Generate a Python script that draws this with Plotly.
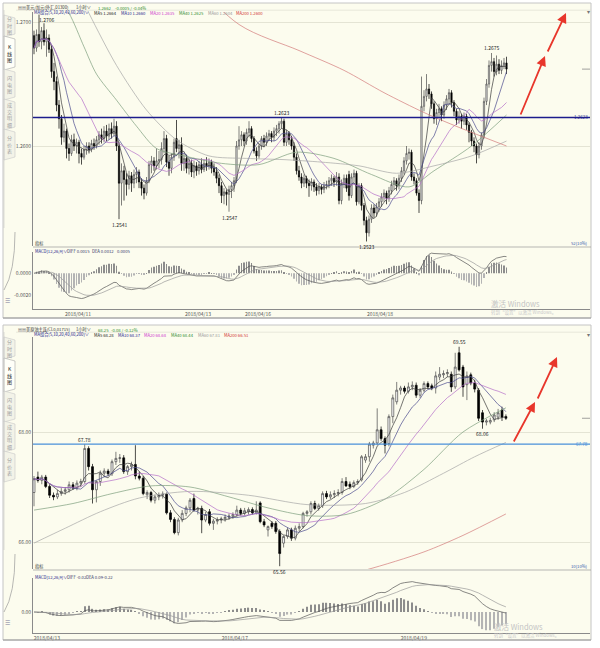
import numpy as np
import pandas as pd
import plotly.graph_objects as go

W, H = 600, 648
FONT = "Noto Sans CJK SC, Noto Sans, sans-serif"
CREAM = "#FCFCEE"

# ---------------- USD/CAD, 1-hour bars ----------------
usd_open = [
    1.2689, 1.2679, 1.2690, 1.2684, 1.2693, 1.2684, 1.2687, 1.2678, 1.2660, 1.2652,
    1.2633, 1.2622, 1.2607, 1.2612, 1.2598, 1.2594, 1.2605, 1.2600, 1.2603, 1.2594,
    1.2591, 1.2597, 1.2600, 1.2597, 1.2602, 1.2600, 1.2605, 1.2609, 1.2606, 1.2612,
    1.2608, 1.2614, 1.2610, 1.2616, 1.2600, 1.2570, 1.2580, 1.2573, 1.2569, 1.2576,
    1.2570, 1.2577, 1.2579, 1.2571, 1.2566, 1.2562, 1.2572, 1.2585, 1.2588, 1.2584,
    1.2588, 1.2589, 1.2598, 1.2606, 1.2587, 1.2582, 1.2591, 1.2606, 1.2598, 1.2601,
    1.2586, 1.2590, 1.2582, 1.2586, 1.2579, 1.2584, 1.2580, 1.2585, 1.2581, 1.2586,
    1.2584, 1.2587, 1.2582, 1.2579, 1.2574, 1.2568, 1.2560, 1.2563, 1.2561, 1.2565,
    1.2568, 1.2572, 1.2600, 1.2605, 1.2609, 1.2604, 1.2611, 1.2614, 1.2606, 1.2596,
    1.2592, 1.2600, 1.2606, 1.2603, 1.2608, 1.2610, 1.2607, 1.2612, 1.2614, 1.2618,
    1.2620, 1.2603, 1.2610, 1.2605, 1.2600, 1.2591, 1.2580, 1.2575, 1.2570, 1.2574,
    1.2570, 1.2568, 1.2571, 1.2567, 1.2564, 1.2567, 1.2565, 1.2568, 1.2569, 1.2572,
    1.2574, 1.2571, 1.2575, 1.2556, 1.2570, 1.2574, 1.2577, 1.2560, 1.2575, 1.2578,
    1.2555, 1.2568, 1.2552, 1.2540, 1.2530, 1.2541, 1.2550, 1.2546, 1.2551, 1.2555,
    1.2559, 1.2562, 1.2558, 1.2564, 1.2569, 1.2572, 1.2568, 1.2574, 1.2580, 1.2588,
    1.2594, 1.2595, 1.2575, 1.2572, 1.2562, 1.2556, 1.2632, 1.2640, 1.2646, 1.2642,
    1.2634, 1.2622, 1.2627, 1.2630, 1.2625, 1.2633, 1.2638, 1.2643, 1.2635, 1.2628,
    1.2621, 1.2624, 1.2620, 1.2624, 1.2617, 1.2611, 1.2604, 1.2600, 1.2593, 1.2600,
    1.2609, 1.2636, 1.2650, 1.2665, 1.2668, 1.2660, 1.2666, 1.2661, 1.2665, 1.2667,
]
usd_high = [
    1.2693, 1.2694, 1.2706, 1.2696, 1.2699, 1.2694, 1.2690, 1.2681, 1.2667, 1.2656,
    1.2637, 1.2625, 1.2618, 1.2614, 1.2602, 1.2609, 1.2610, 1.2606, 1.2605, 1.2598,
    1.2600, 1.2603, 1.2603, 1.2605, 1.2606, 1.2608, 1.2612, 1.2614, 1.2616, 1.2617,
    1.2618, 1.2619, 1.2622, 1.2620, 1.2603, 1.2586, 1.2584, 1.2578, 1.2580, 1.2579,
    1.2581, 1.2583, 1.2581, 1.2574, 1.2569, 1.2575, 1.2588, 1.2592, 1.2591, 1.2598,
    1.2596, 1.2603, 1.2612, 1.2609, 1.2592, 1.2594, 1.2606, 1.2621, 1.2605, 1.2607,
    1.2594, 1.2593, 1.2590, 1.2589, 1.2588, 1.2587, 1.2588, 1.2590, 1.2589, 1.2591,
    1.2590, 1.2589, 1.2586, 1.2583, 1.2577, 1.2571, 1.2566, 1.2565, 1.2568, 1.2571,
    1.2575, 1.2604, 1.2616, 1.2612, 1.2611, 1.2614, 1.2620, 1.2616, 1.2608, 1.2599,
    1.2602, 1.2608, 1.2609, 1.2611, 1.2613, 1.2612, 1.2615, 1.2617, 1.2620, 1.2623,
    1.2622, 1.2613, 1.2612, 1.2608, 1.2603, 1.2594, 1.2584, 1.2578, 1.2577, 1.2576,
    1.2573, 1.2574, 1.2573, 1.2570, 1.2570, 1.2569, 1.2571, 1.2572, 1.2575, 1.2577,
    1.2576, 1.2579, 1.2578, 1.2573, 1.2577, 1.2577, 1.2580, 1.2578, 1.2581, 1.2580,
    1.2570, 1.2570, 1.2554, 1.2543, 1.2544, 1.2553, 1.2553, 1.2554, 1.2558, 1.2562,
    1.2565, 1.2564, 1.2567, 1.2572, 1.2575, 1.2574, 1.2577, 1.2583, 1.2591, 1.2600,
    1.2598, 1.2597, 1.2578, 1.2574, 1.2565, 1.2656, 1.2645, 1.2658, 1.2650, 1.2644,
    1.2636, 1.2630, 1.2634, 1.2632, 1.2636, 1.2641, 1.2646, 1.2645, 1.2637, 1.2630,
    1.2628, 1.2626, 1.2627, 1.2626, 1.2619, 1.2613, 1.2607, 1.2602, 1.2603, 1.2611,
    1.2639, 1.2654, 1.2669, 1.2675, 1.2671, 1.2673, 1.2670, 1.2669, 1.2671, 1.2672,
]
usd_low = [
    1.2674, 1.2676, 1.2680, 1.2678, 1.2681, 1.2672, 1.2675, 1.2655, 1.2645, 1.2628,
    1.2614, 1.2601, 1.2603, 1.2590, 1.2588, 1.2592, 1.2596, 1.2594, 1.2586, 1.2585,
    1.2589, 1.2593, 1.2594, 1.2595, 1.2597, 1.2598, 1.2601, 1.2602, 1.2603, 1.2604,
    1.2605, 1.2606, 1.2608, 1.2596, 1.2541, 1.2552, 1.2556, 1.2560, 1.2565, 1.2563,
    1.2566, 1.2570, 1.2566, 1.2560, 1.2557, 1.2560, 1.2570, 1.2578, 1.2580, 1.2581,
    1.2582, 1.2585, 1.2594, 1.2583, 1.2576, 1.2578, 1.2588, 1.2595, 1.2590, 1.2580,
    1.2580, 1.2578, 1.2577, 1.2575, 1.2574, 1.2576, 1.2577, 1.2578, 1.2579, 1.2580,
    1.2581, 1.2578, 1.2576, 1.2570, 1.2562, 1.2554, 1.2553, 1.2552, 1.2547, 1.2558,
    1.2563, 1.2570, 1.2597, 1.2600, 1.2600, 1.2601, 1.2607, 1.2603, 1.2594, 1.2588,
    1.2590, 1.2597, 1.2599, 1.2600, 1.2604, 1.2603, 1.2604, 1.2608, 1.2610, 1.2614,
    1.2600, 1.2600, 1.2601, 1.2597, 1.2588, 1.2577, 1.2572, 1.2566, 1.2567, 1.2566,
    1.2559, 1.2564, 1.2563, 1.2560, 1.2561, 1.2561, 1.2562, 1.2565, 1.2566, 1.2568,
    1.2567, 1.2568, 1.2553, 1.2553, 1.2566, 1.2563, 1.2556, 1.2558, 1.2571, 1.2552,
    1.2553, 1.2548, 1.2536, 1.2523, 1.2527, 1.2538, 1.2542, 1.2543, 1.2547, 1.2551,
    1.2555, 1.2553, 1.2555, 1.2561, 1.2565, 1.2564, 1.2565, 1.2571, 1.2577, 1.2585,
    1.2589, 1.2572, 1.2569, 1.2560, 1.2546, 1.2553, 1.2628, 1.2636, 1.2638, 1.2630,
    1.2618, 1.2617, 1.2623, 1.2620, 1.2622, 1.2629, 1.2634, 1.2631, 1.2624, 1.2617,
    1.2618, 1.2614, 1.2617, 1.2613, 1.2603, 1.2600, 1.2595, 1.2586, 1.2590, 1.2597,
    1.2606, 1.2633, 1.2647, 1.2660, 1.2656, 1.2657, 1.2658, 1.2658, 1.2662, 1.2658,
]
usd_close = [
    1.2679, 1.2690, 1.2684, 1.2693, 1.2684, 1.2687, 1.2678, 1.2660, 1.2652, 1.2633,
    1.2622, 1.2607, 1.2612, 1.2598, 1.2594, 1.2605, 1.2600, 1.2603, 1.2594, 1.2591,
    1.2597, 1.2600, 1.2597, 1.2602, 1.2600, 1.2605, 1.2609, 1.2606, 1.2612, 1.2608,
    1.2614, 1.2610, 1.2616, 1.2600, 1.2570, 1.2580, 1.2573, 1.2569, 1.2576, 1.2570,
    1.2577, 1.2579, 1.2571, 1.2566, 1.2562, 1.2572, 1.2585, 1.2588, 1.2584, 1.2588,
    1.2589, 1.2598, 1.2606, 1.2587, 1.2582, 1.2591, 1.2603, 1.2598, 1.2601, 1.2586,
    1.2590, 1.2582, 1.2586, 1.2579, 1.2584, 1.2580, 1.2585, 1.2581, 1.2586, 1.2584,
    1.2587, 1.2582, 1.2579, 1.2574, 1.2568, 1.2560, 1.2563, 1.2561, 1.2565, 1.2568,
    1.2572, 1.2600, 1.2605, 1.2609, 1.2604, 1.2611, 1.2614, 1.2606, 1.2596, 1.2592,
    1.2600, 1.2606, 1.2603, 1.2608, 1.2610, 1.2607, 1.2612, 1.2614, 1.2618, 1.2620,
    1.2603, 1.2610, 1.2605, 1.2600, 1.2591, 1.2580, 1.2575, 1.2570, 1.2574, 1.2570,
    1.2568, 1.2571, 1.2567, 1.2564, 1.2567, 1.2565, 1.2568, 1.2569, 1.2572, 1.2574,
    1.2571, 1.2575, 1.2556, 1.2570, 1.2574, 1.2566, 1.2560, 1.2575, 1.2578, 1.2555,
    1.2568, 1.2552, 1.2540, 1.2530, 1.2541, 1.2550, 1.2546, 1.2551, 1.2555, 1.2559,
    1.2562, 1.2558, 1.2564, 1.2569, 1.2572, 1.2568, 1.2574, 1.2580, 1.2588, 1.2594,
    1.2595, 1.2575, 1.2572, 1.2562, 1.2556, 1.2632, 1.2640, 1.2646, 1.2642, 1.2634,
    1.2622, 1.2627, 1.2630, 1.2625, 1.2633, 1.2638, 1.2643, 1.2635, 1.2628, 1.2621,
    1.2624, 1.2620, 1.2624, 1.2617, 1.2611, 1.2604, 1.2600, 1.2593, 1.2600, 1.2609,
    1.2636, 1.2650, 1.2665, 1.2668, 1.2660, 1.2666, 1.2661, 1.2665, 1.2667, 1.2662,
]
# slower moving averages, sampled at bar positions
usd_ma40_idx = [0, 8, 14, 20, 25, 33, 41, 49, 60, 75, 90, 105, 120, 135, 150, 160, 175, 189]
usd_ma40_val = [1.2740, 1.2722, 1.2707, 1.2680, 1.2658, 1.2637, 1.2616, 1.2598, 1.2592,
                1.2586, 1.2585, 1.2595, 1.2590, 1.2577, 1.2567, 1.2580, 1.2600, 1.2625]
usd_ma60_idx = [0, 10, 22, 33, 45, 57, 70, 85, 100, 115, 130, 145, 160, 175, 189]
usd_ma60_val = [1.2790, 1.2757, 1.2707, 1.2665, 1.2629, 1.2605, 1.2592, 1.2590, 1.2589,
                1.2587, 1.2584, 1.2578, 1.2584, 1.2592, 1.2604]
usd_ma200_idx = [0, 40, 82, 106, 124, 140, 156, 170, 189]
usd_ma200_val = [1.2835, 1.2780, 1.2698, 1.2677, 1.2661, 1.2643, 1.2627, 1.2615, 1.2600]
usd_date_idx = [17.6, 65.6, 89.6, 138.4]
usd_date_text = ["2018/04/11", "2018/04/13", "2018/04/16", "2018/04/18"]
usd_peak_idx = [2, 99, 183]
usd_trough_idx = [34, 78, 133]
usd_level_idx = 99

# ---------------- US crude oil, 1-hour bars ----------------
oil_open = [
    66.90, 67.18, 67.12, 67.18, 67.01, 66.85, 66.82, 66.88, 66.92, 66.95,
    67.04, 66.98, 67.07, 67.10, 67.70, 67.37, 66.95, 67.10, 67.25, 67.29,
    67.24, 67.46, 67.52, 67.53, 67.28, 67.37, 67.41, 67.20, 67.16, 66.86,
    66.90, 66.76, 66.82, 66.85, 66.87, 66.53, 66.41, 66.17, 66.40, 66.52,
    66.62, 66.79, 66.58, 66.61, 66.40, 66.55, 66.34, 66.38, 66.40, 66.42,
    66.45, 66.47, 66.50, 66.58, 66.52, 66.55, 66.59, 66.53, 66.71, 66.37,
    66.22, 66.34, 66.34, 66.19, 65.98, 66.10, 66.22, 66.07, 66.25, 66.28,
    66.52, 66.55, 66.70, 66.61, 66.66, 66.88, 66.82, 66.86, 66.88, 66.90,
    67.10, 67.05, 67.01, 67.08, 67.13, 67.49, 67.55, 67.76, 67.80, 68.04,
    67.88, 67.79, 68.28, 68.55, 68.76, 68.80, 68.74, 68.82, 68.85, 68.67,
    68.76, 68.88, 68.84, 68.80, 69.00, 69.04, 69.06, 69.05, 68.82, 69.44,
    69.18, 68.86, 69.04, 68.89, 68.76, 68.35, 68.18, 68.18, 68.22, 68.27,
    68.40, 68.28,
]
oil_high = [
    67.20, 67.28, 67.22, 67.22, 67.05, 66.90, 66.95, 66.98, 67.00, 67.10,
    67.09, 67.12, 67.15, 67.78, 67.74, 67.42, 67.12, 67.30, 67.34, 67.33,
    67.50, 67.64, 67.60, 67.58, 67.40, 67.46, 67.76, 67.28, 67.20, 66.94,
    66.93, 66.86, 66.90, 66.92, 66.90, 66.58, 66.45, 66.44, 66.58, 66.66,
    66.80, 66.88, 66.64, 66.66, 66.55, 66.60, 66.42, 66.45, 66.46, 66.50,
    66.52, 66.54, 66.66, 66.62, 66.62, 66.63, 66.63, 66.74, 66.74, 66.42,
    66.30, 66.38, 66.38, 66.23, 66.12, 66.26, 66.26, 66.30, 66.34, 66.55,
    66.58, 66.74, 66.75, 66.70, 66.92, 66.93, 66.92, 66.94, 66.96, 67.16,
    67.18, 67.10, 67.12, 67.14, 67.58, 67.60, 67.82, 67.84, 68.43, 68.10,
    67.92, 68.32, 68.68, 68.91, 68.84, 68.84, 68.90, 68.92, 68.90, 68.80,
    68.92, 68.92, 68.88, 69.10, 69.18, 69.12, 69.14, 69.10, 69.44, 69.55,
    69.22, 69.10, 69.08, 68.95, 68.80, 68.40, 68.24, 68.26, 68.36, 68.42,
    68.46, 68.32,
]
oil_low = [
    66.65, 67.08, 67.05, 66.98, 66.80, 66.76, 66.78, 66.84, 66.86, 66.90,
    66.95, 66.94, 67.00, 67.06, 67.30, 66.70, 66.72, 67.02, 67.18, 67.20,
    67.20, 67.40, 67.44, 67.24, 67.22, 67.30, 67.14, 67.12, 66.85, 66.78,
    66.72, 66.70, 66.76, 66.79, 66.50, 66.36, 66.14, 66.12, 66.36, 66.47,
    66.54, 66.55, 66.50, 66.16, 66.36, 66.30, 66.22, 66.32, 66.34, 66.37,
    66.40, 66.42, 66.46, 66.48, 66.48, 66.50, 66.50, 66.50, 66.34, 66.27,
    66.10, 66.24, 66.15, 65.56, 65.90, 66.06, 66.02, 66.03, 66.20, 66.25,
    66.46, 66.50, 66.58, 66.57, 66.62, 66.78, 66.78, 66.80, 66.83, 66.86,
    67.00, 66.96, 66.98, 67.04, 67.10, 67.44, 67.46, 67.70, 67.76, 67.84,
    67.61, 67.74, 68.16, 68.50, 68.68, 68.70, 68.70, 68.76, 68.62, 68.62,
    68.72, 68.78, 68.76, 68.70, 68.94, 68.98, 69.00, 68.73, 68.78, 69.10,
    68.64, 68.58, 68.85, 68.72, 68.20, 68.06, 68.12, 68.14, 68.18, 68.22,
    68.20, 68.22,
]
oil_close = [
    67.15, 67.12, 67.18, 67.01, 66.85, 66.82, 66.88, 66.92, 66.95, 67.04,
    66.98, 67.07, 67.10, 67.70, 67.37, 66.95, 67.10, 67.25, 67.29, 67.24,
    67.46, 67.52, 67.53, 67.28, 67.37, 67.41, 67.20, 67.16, 66.88, 66.90,
    66.76, 66.82, 66.85, 66.87, 66.53, 66.41, 66.17, 66.40, 66.52, 66.62,
    66.76, 66.58, 66.61, 66.40, 66.50, 66.34, 66.38, 66.40, 66.42, 66.45,
    66.47, 66.50, 66.58, 66.52, 66.57, 66.59, 66.53, 66.58, 66.37, 66.31,
    66.28, 66.28, 66.19, 65.79, 66.10, 66.22, 66.07, 66.25, 66.28, 66.52,
    66.55, 66.70, 66.61, 66.66, 66.88, 66.82, 66.86, 66.88, 66.90, 67.10,
    67.02, 67.01, 67.08, 67.10, 67.55, 67.55, 67.78, 67.80, 68.04, 67.88,
    67.76, 68.28, 68.62, 68.76, 68.80, 68.74, 68.82, 68.85, 68.67, 68.76,
    68.88, 68.82, 68.80, 69.02, 69.05, 69.06, 69.08, 68.82, 69.18, 69.13,
    68.82, 69.02, 68.89, 68.78, 68.25, 68.18, 68.20, 68.21, 68.31, 68.35,
    68.27, 68.25,
]
oil_ma40_idx = [0, 10, 20, 30, 40, 50, 60, 70, 80, 90, 100, 110, 121]
oil_ma40_val = [66.58, 66.70, 66.88, 67.02, 67.00, 66.82, 66.62, 66.48, 66.50, 66.78,
                67.32, 68.00, 68.44]
oil_ma60_idx = [0, 8, 17, 27, 40, 55, 70, 85, 95, 105, 113, 121]
oil_ma60_val = [65.98, 66.25, 66.55, 66.80, 66.92, 66.85, 66.68, 66.70, 66.90, 67.25,
                67.55, 67.81]
oil_ma200_idx = [0, 40, 70, 85, 100, 110, 121]
oil_ma200_val = [64.60, 64.95, 65.25, 65.49, 65.82, 66.12, 66.51]
oil_date_idx = [3.3, 51.5, 97.4]
oil_date_text = ["2018/04/13", "2018/04/17", "2018/04/19"]
oil_peak_idx = [13, 109]
oil_trough_idx = [63, 115]
oil_level_idx = 13


def px(x):
    return x / W


def py(y):
    return 1 - y / H


fig = go.Figure()
shapes, annotations, axes = [], [], {}


def label(x, y, s, size=5.0, color="#333333", xanchor="left", yanchor="middle"):
    annotations.append(dict(xref="paper", yref="paper", x=px(x), y=py(y), text=s,
                            showarrow=False, xanchor=xanchor, yanchor=yanchor, borderpad=0,
                            font=dict(family=FONT, size=size, color=color)))


def seg(x0, y0, x1, y1, color, width=0.8):
    shapes.append(dict(type="line", xref="paper", yref="paper", x0=px(x0), y0=py(y0),
                       x1=px(x1), y1=py(y1), line=dict(color=color, width=width)))


def arrow(tx, ty, hx, hy):
    annotations.append(dict(xref="paper", yref="paper", x=px(hx), y=py(hy), ax=tx - hx,
                            ay=ty - hy, axref="pixel", ayref="pixel", text="", showarrow=True,
                            arrowhead=2, arrowsize=1.1, arrowwidth=1.8,
                            arrowcolor="#E8362B", standoff=0))


def sma(v, n):
    return pd.Series(v).rolling(n, min_periods=1).mean()


def macd(v):
    s = pd.Series(v)
    diff = s.ewm(span=12, adjust=False).mean() - s.ewm(span=26, adjust=False).mean()
    dea = diff.ewm(span=9, adjust=False).mean()
    return diff, dea, 2 * (diff - dea)


MA_COLORS = {"MA5": "#3a3a3a", "MA10": "#4a4a8e", "MA20": "#b46ec8",
             "MA40": "#7d9d7d", "MA60": "#a6a6a6", "MA200": "#d27a7a"}
HEAD_COLORS = {"MA5": "#222222", "MA10": "#22228a", "MA20": "#cc33cc",
               "MA40": "#2e8b2e", "MA60": "#999999", "MA200": "#d03030"}
HS = 4.2  # header text size


def window(k, off, o, h, l, c, step, ref_px, ref_val, ppu, pdom, pticks, pdec,
           mdom, mzero, mppu, mticks, mdec, long_mas, date_idx, date_text,
           peaks, troughs, level_idx, title, change, head_x, macd_x, level_color,
           tabs, corner_txt):
    xa, ya = ("x", "y") if k == 0 else ("x3", "y3")
    xm, ym = ("x2", "y2") if k == 0 else ("x4", "y4")
    n = len(c)
    idx = np.arange(n)
    xr = [(33 - 34) / step, (590 - 34) / step]
    prange = [ref_val - (pdom[1] - ref_px) / ppu, ref_val + (ref_px - pdom[0]) / ppu]

    def to_px(p):
        return ref_px - (p - ref_val) * ppu

    # window frame and chrome
    shapes.append(dict(type="rect", xref="paper", yref="paper", layer="below",
                       x0=px(3), x1=px(591), y0=py(3 + off), y1=py(318 + off),
                       fillcolor=CREAM, line=dict(color="#c4c4c4", width=1)))
    seg(16, 10.2 + off, 591, 10.2 + off, "#dcdccc", 0.6)
    seg(33, pdom[1] + 1, 591, pdom[1] + 1, "#9a9a9a", 0.7)
    seg(3, 318 + off, 591, 318 + off, "#9a9a9a", 1.2)
    seg(4, 10 + off, 4, 228 + off, "#c8c8c8", 0.6)
    for t0, t1, name, active in tabs:
        path = (f"M {px(4)},{py(t0 + off)} L {px(15)},{py(t0 + off + 3)} "
                f"L {px(15)},{py(t1 + off)} L {px(4)},{py(t1 + off + 3)} Z")
        shapes.append(dict(type="path", xref="paper", yref="paper", path=path, layer="below",
                           fillcolor="#FFFFF8" if active else "#F3F3E8",
                           line=dict(color="#a8a8a8" if active else "#c8c8c8", width=0.6)))
        label(9.5, (t0 + t1) / 2 + 1.5 + off, "<br>".join(name), 5,
              "#222222" if active else "#a0a0a0", xanchor="center")
    curve = (f"M {px(15)},{py(232 + off)} Q {px(15)},{py(272 + off)} "
             f"{px(4)},{py(290 + off)}")
    shapes.append(dict(type="path", xref="paper", yref="paper", path=curve,
                       line=dict(color="#9a9a9a", width=0.7)))
    label(7, 300 + off, "☰", 6, "#7a7a9a", xanchor="center")
    label(588, 12 + off, "▾", 6, "#777777", xanchor="center")

    # header rows
    label(17, 7.7 + off, "▤▤", 4, "#666666")
    label(25, 7.7 + off, title, HS, "#333333")
    label(75, 7.7 + off, "1小时∨", HS, "#333333")
    label(97, 7.7 + off, f"{c[-1]:.{pdec}f}", HS, "#2a8a2a")
    label(97 + (17 if pdec == 4 else 13), 7.7 + off, change, HS, "#2a8a2a")
    label(33, 12.9 + off, "MA组合(5,10,20,40,60,200)∨", HS, "#22228a")

    # candles
    fig.add_trace(go.Candlestick(
        x=idx, open=o, high=h, low=l, close=c, xaxis=xa, yaxis=ya, whiskerwidth=0,
        increasing=dict(line=dict(color="#4a4a4a", width=0.7), fillcolor="#ffffff"),
        decreasing=dict(line=dict(color="#000000", width=0.7), fillcolor="#000000"),
        hoverinfo="skip"))

    # moving averages
    lasts = {}
    for name, span in (("MA5", 5), ("MA10", 10), ("MA20", 20)):
        m = sma(c, span)
        lasts[name] = m.iloc[-1]
        fig.add_trace(go.Scatter(x=idx, y=m, mode="lines", xaxis=xa, yaxis=ya,
                                 line=dict(color=MA_COLORS[name], width=0.7), hoverinfo="skip"))
    for name, (mi, mv) in long_mas.items():
        lasts[name] = mv[-1]
        fig.add_trace(go.Scatter(x=mi, y=mv, mode="lines", xaxis=xa, yaxis=ya,
                                 line=dict(color=MA_COLORS[name], width=0.7, shape="spline",
                                           smoothing=0.8), hoverinfo="skip"))
    for name, x in zip(["MA5", "MA10", "MA20", "MA40", "MA60", "MA200"], head_x):
        label(x, 12.9 + off, f"{name} {lasts[name]:.{pdec}f}", HS, HEAD_COLORS[name])

    # level line through the marked high
    level = h[level_idx]
    fig.add_trace(go.Scatter(x=xr, y=[level, level], mode="lines", xaxis=xa, yaxis=ya,
                             line=dict(color=level_color, width=1.4), hoverinfo="skip"))
    label(589, to_px(level), f"{level:.{pdec}f}", 4.5, level_color, xanchor="right")
    # last price marker on the right edge
    seg(582, to_px(c[-1]), 590, to_px(c[-1]), "#8a8a8a", 0.8)

    # extreme value labels
    for i in peaks:
        yp = to_px(h[i])
        if yp - 7 < pdom[0]:
            label(34 + step * i - 1, yp + 0.5, f"{h[i]:.{pdec}f}", 5, "#222222",
                  xanchor="left", yanchor="top")
        else:
            label(34 + step * i, yp - 0.5, f"{h[i]:.{pdec}f}", 5, "#222222",
                  xanchor="center", yanchor="bottom")
    for i in troughs:
        label(34 + step * i, to_px(l[i]) + 0.8, f"{l[i]:.{pdec}f}", 5, "#222222",
              xanchor="center", yanchor="top")

    # MACD panel
    diff, dea, hist = macd(c)
    fig.add_trace(go.Bar(x=idx, y=hist, xaxis=xm, yaxis=ym, width=0.3,
                         marker=dict(color=np.where(hist >= 0, "#8c8c8c", "#b4b4b4"),
                                     line=dict(width=0)), hoverinfo="skip"))
    fig.add_trace(go.Scatter(x=idx, y=diff, mode="lines", xaxis=xm, yaxis=ym,
                             line=dict(color="#555555", width=0.7), hoverinfo="skip"))
    fig.add_trace(go.Scatter(x=idx, y=dea, mode="lines", xaxis=xm, yaxis=ym,
                             line=dict(color="#9a9a9a", width=0.7), hoverinfo="skip"))
    mrange = [-(mdom[1] - mzero) / mppu, (mzero - mdom[0]) / mppu]
    label(34, pdom[1] - 3, "指标", HS, "#333333")
    label(589, pdom[1] - 3, corner_txt, HS, "#3355aa", xanchor="right")
    label(34, mdom[0] - 1, "MACD(12,26,9)∨", HS, "#22228a")
    label(macd_x[0], mdom[0] - 1, f"DIFF {diff.iloc[-1]:.{mdec}f}", HS, "#333366")
    label(macd_x[1], mdom[0] - 1, f"DEA {dea.iloc[-1]:.{mdec}f}", HS, "#333366")
    label(macd_x[2], mdom[0] - 1, f"{hist.iloc[-1]:.{mdec}f}", HS, "#333366")

    tick = dict(family=FONT, size=5, color="#555555")
    sfx = "" if k == 0 else "3"
    sfm = "2" if k == 0 else "4"
    axes["xaxis" + sfx] = dict(domain=[px(33), px(590)], range=xr, anchor=ya,
                               showticklabels=False, showgrid=False, zeroline=False,
                               rangeslider=dict(visible=False), fixedrange=True)
    axes["yaxis" + sfx] = dict(domain=[py(pdom[1]), py(pdom[0])], range=prange, anchor=xa,
                               tickvals=pticks, ticktext=[f"{v:.{pdec}f}" for v in pticks],
                               tickfont=tick, ticks="", showgrid=True, gridcolor="#e4e4d4",
                               gridwidth=0.6, zeroline=False, showline=True,
                               linecolor="#8a8a8a", linewidth=0.8, fixedrange=True)
    axes["xaxis" + sfm] = dict(domain=[px(33), px(590)], range=xr, anchor=ym,
                               tickvals=date_idx, ticktext=date_text, tickfont=tick, ticks="",
                               showgrid=False, zeroline=False, showline=True,
                               linecolor="#8a8a8a", linewidth=0.8, fixedrange=True)
    axes["yaxis" + sfm] = dict(domain=[py(mdom[1]), py(mdom[0])], range=mrange, anchor=xm,
                               tickvals=mticks,
                               ticktext=[f"{v:.{mdec}f}" for v in mticks], tickfont=tick,
                               ticks="", showgrid=False, zeroline=False, showline=True,
                               linecolor="#8a8a8a", linewidth=0.8, fixedrange=True)


TABS = [(15, 34, "分时图", False), (36, 67, "K线图", True), (69, 97, "闪电图", False),
        (99, 127, "成交明细", False), (129, 157, "分价表", False)]

window(0, 0, usd_open, usd_high, usd_low, usd_close, 2.5, 146, 1.2600, 12400,
       (12, 246), [1.2600, 1.2700], 4, (252, 309), 273.3, 11200, [0.0, -0.0020], 4,
       {"MA40": (usd_ma40_idx, usd_ma40_val), "MA60": (usd_ma60_idx, usd_ma60_val),
        "MA200": (usd_ma200_idx, usd_ma200_val)},
       usd_date_idx, usd_date_text, usd_peak_idx, usd_trough_idx, usd_level_idx,
       "美元/加元(外汇,01300)", "-0.0005 / -0.04%", [93, 120, 149, 178, 207, 235],
       [66, 91, 116], "#1c1c8c", TABS, "52(10%)")

# crude oil MACD scale from its own swing
_d, _e, _h = macd(oil_close)
oil_top = max(_d.max(), _e.max(), _h.max()) * 1.12
oil_mppu = (612 - 578) / oil_top

window(1, 322, oil_open, oil_high, oil_low, oil_close, 3.9, 432, 68.00, 55,
       (337, 569), [66.00, 68.00], 2, (578, 633), 612, oil_mppu, [0.0], 2,
       {"MA40": (oil_ma40_idx, oil_ma40_val), "MA60": (oil_ma60_idx, oil_ma60_val),
        "MA200": (oil_ma200_idx, oil_ma200_val)},
       oil_date_idx, oil_date_text, oil_peak_idx, oil_trough_idx, oil_level_idx,
       "美原油主连(CL0,01715)", "-0.08 / -0.12%", [93, 117, 143, 170, 197, 223],
       [66, 85, 102], "#4a90d9", TABS, "10(10%)")

# trend arrows
arrow(520, 116, 545, 56)
arrow(547, 53, 566, 13)
arrow(513, 443, 535, 402)
arrow(537, 400, 557, 357)

# system watermark
label(490, 303, "激活 Windows", 7.5, "#c4c4c4")
label(490, 312.5, "转到“设置”以激活 Windows。", 4.5, "#cacaca")
label(493, 626, "激活 Windows", 7.5, "#c4c4c4")
label(493, 635.5, "转到“设置”以激活 Windows。", 4.5, "#cacaca")

fig.update_layout(width=W, height=H, autosize=False, margin=dict(l=0, r=0, t=0, b=0),
                  paper_bgcolor="#ffffff", plot_bgcolor="rgba(0,0,0,0)", showlegend=False,
                  shapes=shapes, annotations=annotations, font=dict(family=FONT),
                  **axes)

fig.write_html("out.html", config={"displayModeBar": False})
